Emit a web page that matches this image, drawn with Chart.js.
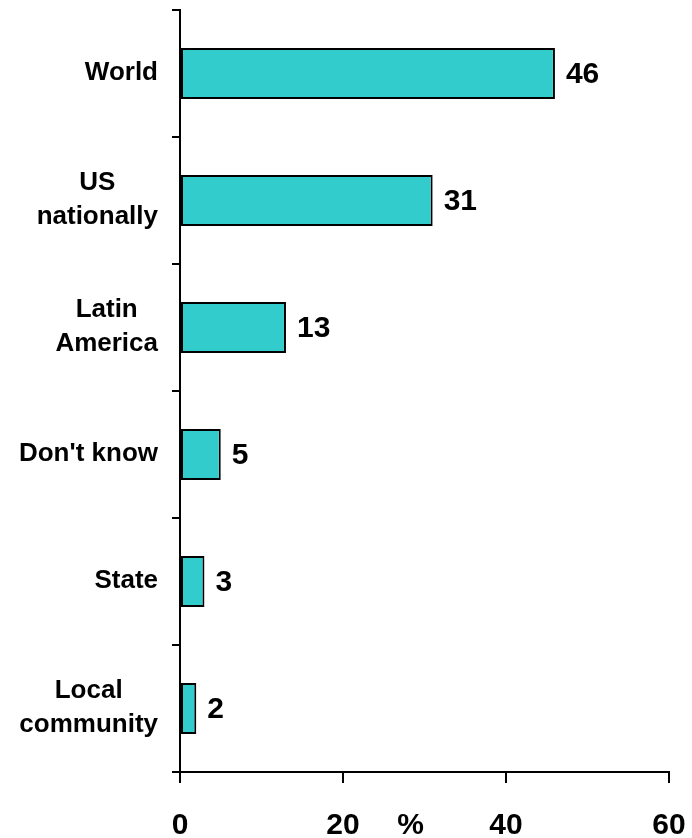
<!DOCTYPE html>
<html>
<head>
<meta charset="utf-8">
<script src="https://cdn.jsdelivr.net/npm/chart.js@4.4.1/dist/chart.umd.min.js"></script>
<style>
  html, body { margin: 0; padding: 0; background: #fff; }
  #wrap { width: 692px; height: 838px; }
</style>
</head>
<body>
<div id="wrap"><canvas id="chart" width="692" height="838"></canvas></div>
<script>
  // categories, top to bottom; multi-line names are arrays
  const categories = [
    ['World'],
    ['US', 'nationally'],
    ['Latin', 'America'],
    ["Don't know"],
    ['State'],
    ['Local', 'community'],
  ];
  const shares = [46, 31, 13, 5, 3, 2];
  const xTicks = [0, 20, 40, 60];
  const unitLabel = '%';
  const unitAt = 28.3; // where the unit sits along the x scale

  const FONT = '"Liberation Sans", Arial, sans-serif';
  const canvas = document.getElementById('chart');

  // category names drawn as centred blocks, right-aligned against the axis
  const categoryLabels = {
    id: 'categoryLabels',
    afterDraw(chart) {
      const ctx = chart.ctx;
      const y = chart.scales.y;
      ctx.save();
      ctx.font = 'bold 26px ' + FONT;
      ctx.fillStyle = '#000';
      ctx.textBaseline = 'middle';
      ctx.textAlign = 'center';
      const lineH = 34;
      categories.forEach((lines, i) => {
        const w = Math.max(...lines.map(l => ctx.measureText(l).width));
        const cx = y.right - 22 - w / 2;
        const cy = y.getPixelForValue(i) - 1;
        lines.forEach((l, j) => {
          ctx.fillText(l, cx, cy + (j - (lines.length - 1) / 2) * lineH);
        });
      });
      ctx.restore();
    }
  };

  // value next to each bar, plus the unit on the x axis line
  const valueLabels = {
    id: 'valueLabels',
    afterDatasetsDraw(chart) {
      const ctx = chart.ctx;
      const meta = chart.getDatasetMeta(0);
      ctx.save();
      ctx.font = 'bold 30px ' + FONT;
      ctx.fillStyle = '#000';
      ctx.textBaseline = 'middle';
      ctx.textAlign = 'left';
      meta.data.forEach((bar, i) => {
        ctx.fillText(String(shares[i]), bar.x + 11, bar.y + 1);
      });
      const x = chart.scales.x;
      ctx.textAlign = 'center';
      ctx.fillText(unitLabel, x.getPixelForValue(unitAt), x.top + 54);
      ctx.restore();
    }
  };

  new Chart(canvas.getContext('2d'), {
    type: 'bar',
    data: {
      labels: categories.map(c => c.join(' ')),
      datasets: [{
        data: shares,
        backgroundColor: '#33CCCC',
        borderColor: '#000',
        borderWidth: 2,
        borderSkipped: false,
        barPercentage: 0.4,
        categoryPercentage: 1,
      }]
    },
    options: {
      indexAxis: 'y',
      responsive: false,
      animation: false,
      layout: { padding: { top: 10, right: 23, left: 0, bottom: 0 } },
      plugins: {
        legend: { display: false },
        tooltip: { enabled: false }
      },
      scales: {
        x: {
          min: 0,
          max: 60,
          afterBuildTicks: s => { s.ticks = xTicks.map(v => ({ value: v })); },
          afterFit: s => {
            s.height = 66;
            s.paddingLeft = 0;
            s.paddingRight = 0;
          },
          border: { color: '#000', width: 2 },
          grid: { drawOnChartArea: false, color: '#000', lineWidth: 2, tickLength: 11 },
          ticks: {
            color: '#000',
            padding: 25,
            maxRotation: 0,
            font: { family: FONT, size: 30, weight: 'bold' }
          }
        },
        y: {
          afterFit: s => { s.width = 180; },
          border: { color: '#000', width: 2 },
          grid: { drawOnChartArea: false, color: '#000', lineWidth: 2, tickLength: 8, offset: true },
          ticks: { display: false }
        }
      }
    },
    plugins: [categoryLabels, valueLabels]
  });
</script>
</body>
</html>
